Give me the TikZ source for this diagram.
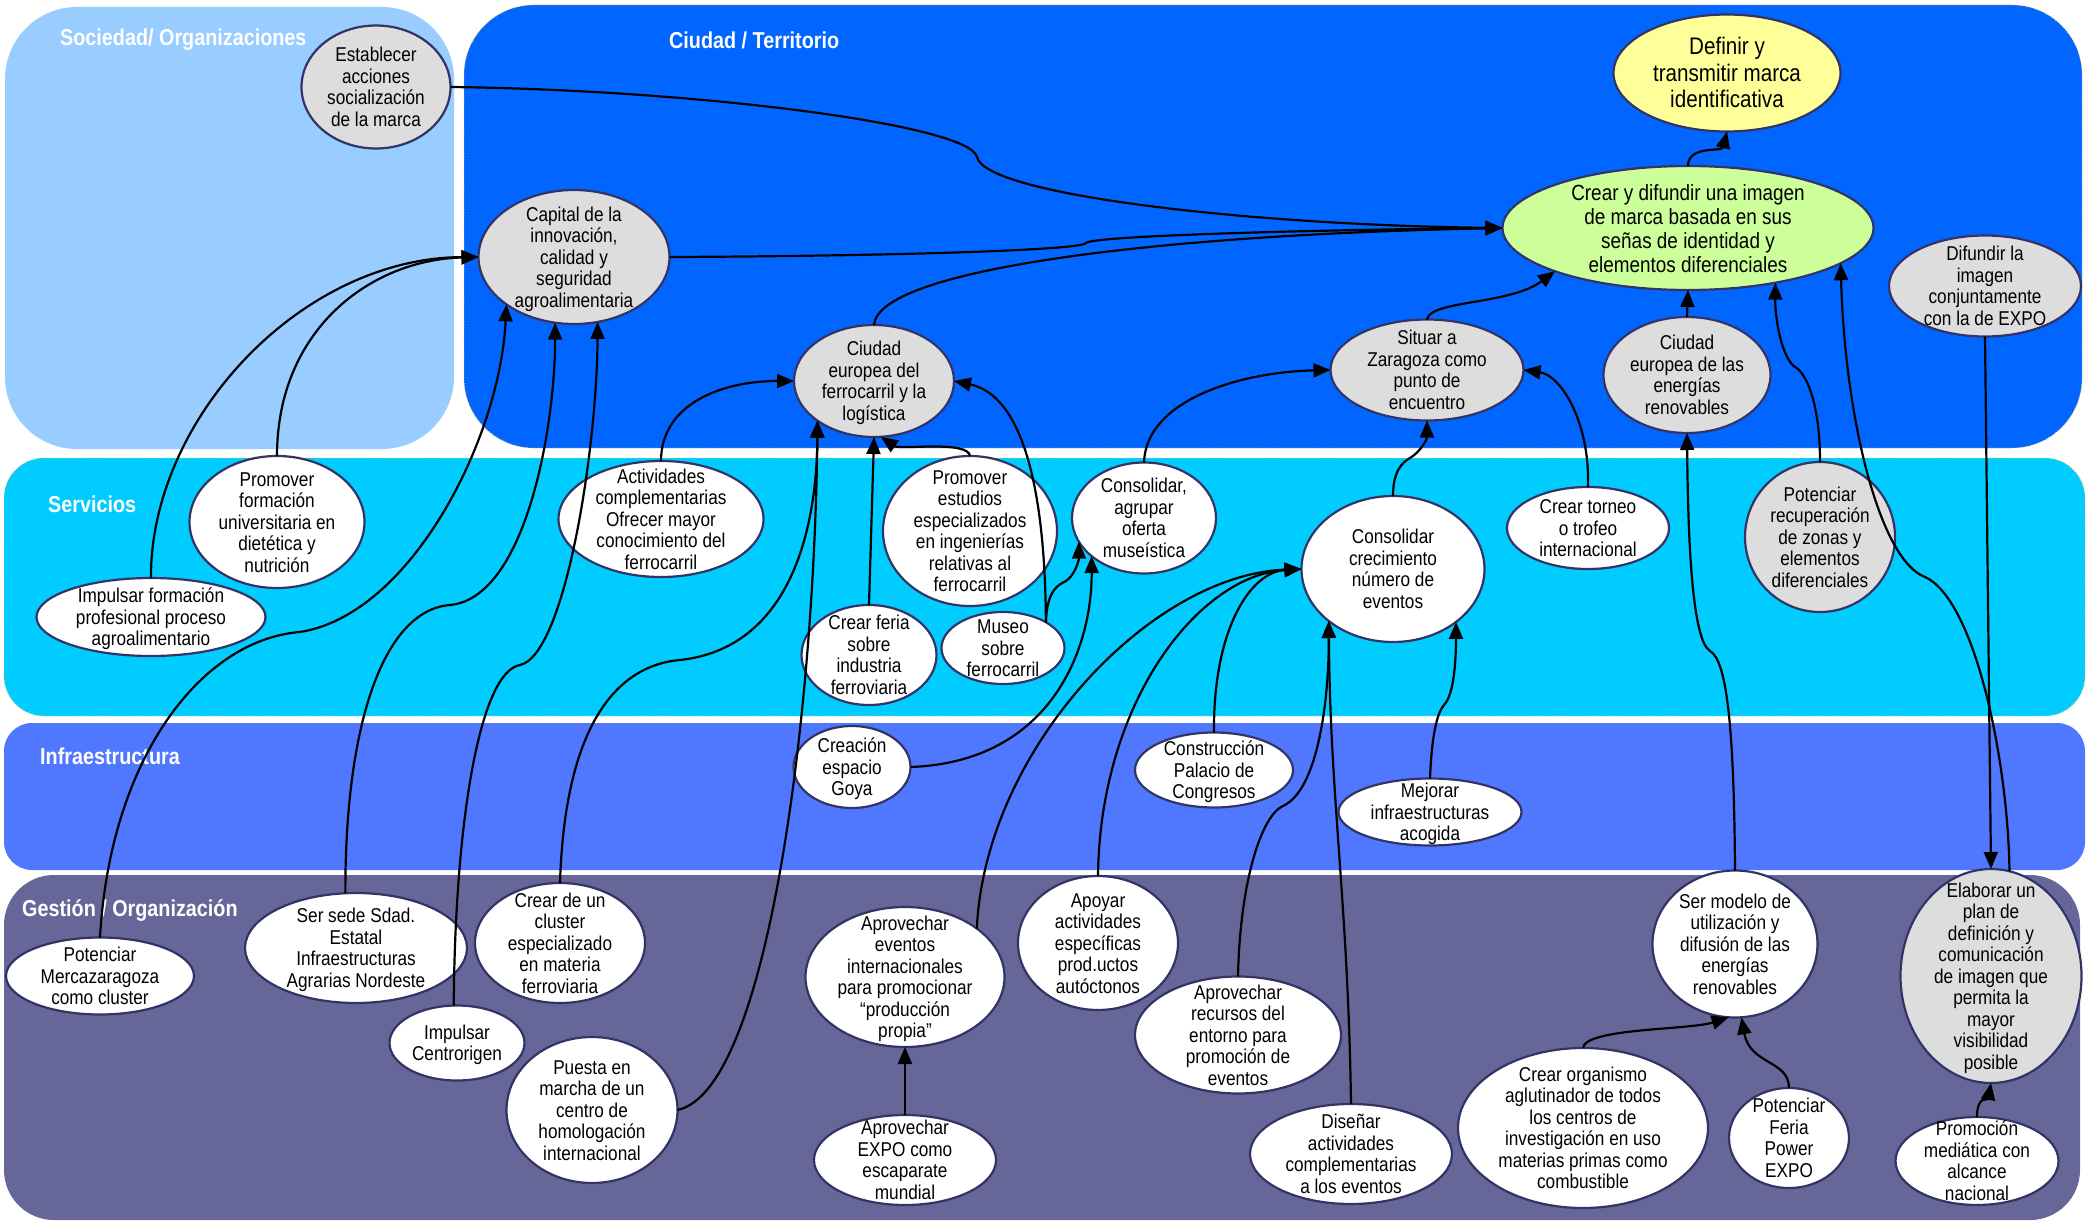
\documentclass[tikz,border=0pt]{standalone}
\usepackage{fontspec}
\setmainfont{Liberation Sans}[FakeStretch=0.86]
\usetikzlibrary{shapes.geometric,arrows.meta}
\definecolor{socc}{HTML}{99CCFF}
\definecolor{ciuc}{HTML}{0066FF}
\definecolor{serc}{HTML}{00CCFF}
\definecolor{infc}{HTML}{5078FF}
\definecolor{gesc}{HTML}{666699}
\definecolor{ndgray}{HTML}{DDDDDD}
\definecolor{ndline}{HTML}{333366}
\definecolor{grn}{HTML}{CCFF99}
\definecolor{yel}{HTML}{FFFF99}
\definecolor{bord}{HTML}{FFCC66}
\newcommand{\tx}[1]{\makebox[0pt]{\smash{\raisebox{-0.25em}{\raisebox{-3pt}{\begin{tabular}[c]{@{}c@{}}#1\end{tabular}}}}}}
\begin{document}
\begin{tikzpicture}[x=1pt,y=-1pt,
  nd/.style={ellipse,draw=ndline,line width=2.2pt,inner sep=0pt,outer sep=0pt,font=\fontsize{20}{21.5}\selectfont},
  gr/.style={nd,fill=ndgray},
  wh/.style={nd,fill=white},
  sz/.style 2 args={minimum width=#1,minimum height=#2},
  con/.style={line width=2.2pt,-{Triangle[length=17pt,width=14pt]}},
  ttl/.style={text=white,font=\bfseries\fontsize{23}{25}\selectfont,anchor=west,inner sep=0pt}]
\useasboundingbox (0,0) rectangle (2089,1223);
% bands
\fill[socc,rounded corners=72pt] (5,7) rectangle (454,449);
\filldraw[fill=ciuc,draw=bord,dotted,line width=0.8pt,rounded corners=70pt] (464,5) rectangle (2082,448);
\filldraw[fill=serc,draw=bord,dotted,line width=0.8pt,rounded corners=40pt] (4,458) rectangle (2085,716);
\fill[infc,rounded corners=28pt] (4,723) rectangle (2085,870);
\fill[gesc,rounded corners=50pt] (4,875) rectangle (2080,1220);
% titles
\node[ttl] (tsoc) at (60,40) {Sociedad/ Organizaciones};
\node[ttl] (tciu) at (669,40) {Ciudad / Territorio};
\node[ttl] (tser) at (48,504) {Servicios};
\node[ttl] (tinf) at (40,756) {Infraestructura};
\node[ttl] (tges) at (22,910) {Gestión / Organización};
% nodes
\node[gr,sz={149pt}{123pt}] (est) at (376,87) {\tx{Establecer\\acciones\\socialización\\de la marca}};
\node[gr,sz={191pt}{134pt}] (cap) at (574,257) {\tx{Capital de la\\innovación,\\calidad y\\seguridad\\agroalimentaria}};
\node[nd,fill=yel,sz={227pt}{117pt},font=\fontsize{24}{26.5}\selectfont] (def) at (1727,73) {\tx{Definir y\\transmitir marca\\identificativa}};
\node[nd,fill=grn,sz={371pt}{124pt},font=\fontsize{22}{24}\selectfont] (img) at (1688,228) {\tx{Crear y difundir una imagen\\de marca basada en sus\\señas de identidad y\\elementos diferenciales}};
\node[gr,sz={160pt}{112pt}] (fer) at (874,381) {\tx{Ciudad\\europea del\\ferrocarril y la\\logística}};
\node[gr,sz={193pt}{101pt}] (sit) at (1427,370) {\tx{Situar a\\Zaragoza como\\punto de\\encuentro}};
\node[gr,sz={167pt}{116pt}] (ren) at (1687,375) {\tx{Ciudad\\europea de las\\energías\\renovables}};
\node[gr,sz={192pt}{101pt}] (dif) at (1985,286) {\tx{Difundir la\\imagen\\conjuntamente\\con la de EXPO}};
\node[wh,sz={175pt}{132pt}] (uni) at (277,522) {\tx{Promover\\formación\\universitaria en\\dietética y\\nutrición}};
\node[wh,sz={229pt}{78pt}] (fpr) at (151,617) {\tx{Impulsar formación\\profesional proceso\\agroalimentario}};
\node[wh,sz={205pt}{116pt}] (act) at (661,519) {\tx{Actividades\\complementarias\\Ofrecer mayor\\conocimiento del\\ferrocarril}};
\node[wh,sz={135pt}{100pt}] (fria) at (869,655) {\tx{Crear feria\\sobre\\industria\\ferroviaria}};
\node[wh,sz={174pt}{150pt}] (ing) at (970,531) {\tx{Promover\\estudios\\especializados\\en ingenierías\\relativas al\\ferrocarril}};
\node[wh,sz={123pt}{72pt}] (mus) at (1003,648) {\tx{Museo\\sobre\\ferrocarril}};
\node[wh,sz={144pt}{111pt}] (mse) at (1144,518) {\tx{Consolidar,\\agrupar\\oferta\\museística}};
\node[wh,sz={183pt}{146pt}] (cre) at (1393,569) {\tx{Consolidar\\crecimiento\\número de\\eventos}};
\node[wh,sz={162pt}{82pt}] (tor) at (1588,528) {\tx{Crear torneo\\o trofeo\\internacional}};
\node[gr,sz={150pt}{150pt}] (rec) at (1820,537) {\tx{Potenciar\\recuperación\\de zonas y\\elementos\\diferenciales}};
\node[wh,sz={117pt}{82pt}] (goy) at (852,767) {\tx{Creación\\espacio\\Goya}};
\node[wh,sz={158pt}{75pt}] (pal) at (1214,770) {\tx{Construcción\\Palacio de\\Congresos}};
\node[wh,sz={183pt}{67pt}] (mej) at (1430,812) {\tx{Mejorar\\infraestructuras\\acogida}};
\node[wh,sz={188pt}{77pt}] (mer) at (100,976) {\tx{Potenciar\\Mercazaragoza\\como cluster}};
\node[wh,sz={222pt}{110pt}] (sed) at (356,948) {\tx{Ser sede Sdad.\\Estatal\\Infraestructuras\\Agrarias Nordeste}};
\node[wh,sz={170pt}{120pt}] (clu) at (560,943) {\tx{Crear de un\\cluster\\especializado\\en materia\\ferroviaria}};
\node[wh,sz={135pt}{75pt}] (ctr) at (457,1043) {\tx{Impulsar\\Centrorigen}};
\node[wh,sz={171pt}{146pt}] (pue) at (592,1110) {\tx{Puesta en\\marcha de un\\centro de\\homologación\\internacional}};
\node[wh,sz={199pt}{140pt}] (apv) at (905,977) {\tx{Aprovechar\\eventos\\internacionales\\para promocionar\\“producción\\propia”}};
\node[wh,sz={182pt}{90pt}] (exp) at (905,1160) {\tx{Aprovechar\\EXPO como\\escaparate\\mundial}};
\node[wh,sz={160pt}{134pt}] (apo) at (1098,943) {\tx{Apoyar\\actividades\\específicas\\prod.uctos\\autóctonos}};
\node[wh,sz={206pt}{117pt}] (rcs) at (1238,1035) {\tx{Aprovechar\\recursos del\\entorno para\\promoción de\\eventos}};
\node[wh,sz={202pt}{100pt}] (dis) at (1351,1154) {\tx{Diseñar\\actividades\\complementarias\\a los eventos}};
\node[wh,sz={165pt}{147pt}] (mod) at (1735,944) {\tx{Ser modelo de\\utilización y\\difusión de las\\energías\\renovables}};
\node[wh,sz={250pt}{160pt}] (org) at (1583,1128) {\tx{Crear organismo\\aglutinador de todos\\los centros de\\investigación en uso\\materias primas como\\combustible}};
\node[wh,sz={120pt}{100pt}] (pow) at (1789,1138) {\tx{Potenciar\\Feria\\Power\\EXPO}};
\node[gr,sz={181pt}{214pt}] (ela) at (1991,976) {\tx{Elaborar un\\plan de\\definición y\\comunicación\\de imagen que\\permita la\\mayor\\visibilidad\\posible}};
\node[wh,sz={163pt}{88pt}] (pro) at (1977,1161) {\tx{Promoción\\mediática con\\alcance\\nacional}};
% connectors
\draw[con] (est.east) .. controls (700,90) and (970,125) .. (977,157) .. controls (985,195) and (1250,225) .. (img.west);
\draw[con] (cap.east) .. controls (900,256) and (1082,250) .. (1086,243) .. controls (1092,236) and (1300,230) .. (img.west);
\draw[con] (fer.north) .. controls (878,270) and (1150,235) .. (img.west);
\draw[con] (sit.north) .. controls (1430,300) and (1510,305) .. (img.198);
\draw[con] (ren.north) -- (img.south);
\draw[con] (rec.north) .. controls (1820,400) and (1805,372) .. (1795,367) .. controls (1782,358) and (1775,320) .. (img.328);
\draw[con] (ela.80) .. controls (2008,760) and (1975,600) .. (1925,577) .. controls (1880,560) and (1845,420) .. (img.347);
\draw[con] (dif.south) -- (ela.north);
\draw[con] (img.north) .. controls (1688,145) and (1722,152) .. (def.south);
\draw[con] (fpr.north) .. controls (150,420) and (300,258) .. (cap.west);
\draw[con] (uni.north) .. controls (277,330) and (370,260) .. (cap.west);
\draw[con] (mer.north) .. controls (110,760) and (200,640) .. (300,632) .. controls (410,615) and (500,440) .. (cap.215);
\draw[con] (sed.101) .. controls (345,720) and (385,610) .. (450,605) .. controls (525,598) and (555,430) .. (cap.254);
\draw[con] (ctr.95) .. controls (455,820) and (480,672) .. (520,665) .. controls (565,655) and (597,450) .. (cap.290);
\draw[con] (clu.north) .. controls (565,720) and (620,665) .. (680,660) .. controls (790,648) and (817,530) .. (fer.215);
\draw[con] (pue.east) .. controls (770,1090) and (815,700) .. (fer.215);
\draw[con] (act.north) .. controls (661,405) and (720,381) .. (fer.west);
\draw[con] (fria.north) -- (fer.south);
\draw[con] (ing.north) .. controls (968,440) and (900,450) .. (fer.277);
\draw[con] (mus.31) .. controls (1045,480) and (1020,395) .. (fer.east);
\draw[con] (mus.31) .. controls (1047,590) and (1058,585) .. (1066,581) .. controls (1075,575) and (1079,560) .. (mse.200);
\draw[con] (goy.east) .. controls (1050,762) and (1092,650) .. (mse.216);
\draw[con] (mse.north) .. controls (1146,400) and (1240,372) .. (sit.west);
\draw[con] (cre.north) .. controls (1393,470) and (1403,462) .. (1410,458) .. controls (1420,452) and (1427,440) .. (sit.south);
\draw[con] (tor.north) .. controls (1590,420) and (1560,375) .. (sit.east);
\draw[con] (pal.north) .. controls (1213,630) and (1250,572) .. (cre.west);
\draw[con] (apv.34) .. controls (985,750) and (1150,575) .. (cre.west);
\draw[con] (apo.north) .. controls (1100,700) and (1200,575) .. (cre.west);
\draw[con] (rcs.north) .. controls (1240,880) and (1262,815) .. (1283,806) .. controls (1318,790) and (1329,700) .. (cre.219);
\draw[con] (dis.north) .. controls (1348,900) and (1330,800) .. (cre.219);
\draw[con] (mej.north) .. controls (1432,730) and (1438,712) .. (1444,705) .. controls (1454,695) and (1456,660) .. (cre.320);
\draw[con] (exp.north) -- (apv.south);
\draw[con] (mod.north) .. controls (1734,720) and (1726,660) .. (1710,651) .. controls (1692,640) and (1688,540) .. (ren.south);
\draw[con] (org.north) .. controls (1585,1028) and (1690,1030) .. (mod.265);
\draw[con] (pow.north) .. controls (1789,1060) and (1750,1065) .. (mod.275);
\draw[con] (pro.north) .. controls (1977,1095) and (1988,1100) .. (ela.south);
\end{tikzpicture}
\end{document}
